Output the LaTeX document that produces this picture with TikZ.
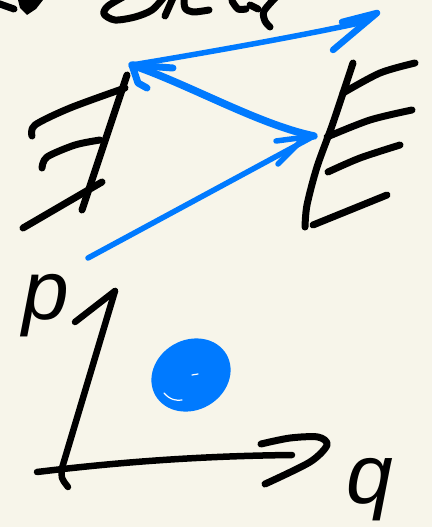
\documentclass[tikz,border=0pt]{standalone}
\usepackage{fontspec}
\usepackage{tikz}
\usetikzlibrary{calc}
\newfontfamily\handfont{Liberation Sans}
\definecolor{paper}{HTML}{F7F5EA}
\definecolor{tapblue}{HTML}{007AFF}

\begin{document}
\begin{tikzpicture}[
  x=1pt,y=-1pt,
  ink/.style={draw=black,line width=7pt,line cap=round,line join=round},
  axis/.style={ink,line width=6.5pt},
  blueink/.style={draw=tapblue,line width=5.5pt,line cap=round,line join=round},
  letter/.style={font=\handfont\itshape\fontsize{84}{84}\selectfont,
                 inner sep=0pt,text=black},
]
  \useasboundingbox (0,0) rectangle (432,527);
  \fill[paper] (0,0) rectangle (432,527);

  \coordinate (existsTip) at (132,65);
  \coordinate (epsTip) at (314,136);
  \coordinate (lowStart) at (88,258);
  \coordinate (topEnd) at (364,22);
  \coordinate (pTip) at (115,291);
  \coordinate (qTip) at (292,455);
  \coordinate (pFoot) at (62,468);
  \coordinate (qFoot) at (37,472);
  \coordinate (dot) at (191,375);

  \draw[ink] (-3,3) -- (14,9);
  \fill (18,0) -- (43,0) -- (36,9) -- (27,15) -- (20,8) -- cycle;
  \draw[ink] plot[smooth] coordinates {(125,-4) (108,6) (104,14) (115,20) (135,17) (152,10) (164,-3)};
  \draw[ink] (173,-2) -- (165,16);
  \draw[ink] plot[smooth] coordinates {(184,-3) (185,8) (193,12) (209,10)};
  \draw[ink] plot[smooth] coordinates {(232,1) (238,9) (246,9)};
  \draw[ink] (250,5) -- (258,9);
  \draw[ink] plot[smooth] coordinates {(277,-4) (264,11) (265,21) (270,27)};

  \draw[ink] (127,75) -- (82,210);
  \draw[ink] plot[smooth] coordinates {(32,136) (35,125) (70,108) (125,88)};
  \draw[ink] plot[smooth] coordinates {(42,168) (47,157) (75,145) (100,140)};
  \draw[ink] (23,228) -- (102,182);

  \draw[ink] plot[smooth] coordinates {(353,63) (333,123) (317,167) (307,205) (305,227)};
  \draw[ink] plot[smooth] coordinates {(343,93) (380,73) (415,63)};
  \draw[ink] plot[smooth] coordinates {(327,137) (370,120) (412,110)};
  \draw[ink] plot[smooth] coordinates {(328,172) (360,158) (400,145)};
  \draw[ink] (313,225) -- (387,195);

  \draw[blueink] (lowStart) -- (epsTip);
  \draw[blueink] (epsTip) ++(-38,5) -- (epsTip) -- ++(-13,5) -- ++(-23,23);
  \draw[blueink,line width=7.5pt] (epsTip) .. controls (260,125) and (190,85) .. (existsTip);
  \draw[blueink,line width=7pt] (existsTip) ++(41,3) -- (existsTip) -- ++(6,18) -- ++(9,5);
  \draw[blueink] (existsTip) .. controls (210,52) and (300,36) .. (topEnd);
  \draw[blueink,line width=6.5pt] (topEnd) ++(-22,0) -- ++(35,-9) -- ++(-44,37);

  \draw[axis] (pTip) -- (pFoot) .. controls (61,478) .. (68,487);
  \draw[axis] (pTip) -- ++(-40,31);
  \draw[axis] (qFoot) .. controls (120,462) and (200,456) .. (qTip);
  \draw[ink] plot[smooth] coordinates {(261,444) (290,438) (318,437) (327,445) (310,462) (265,484)};

  \fill[tapblue,rotate around={30:(dot)}] (dot) ellipse (41 and 35);
  \draw[white,line width=1.2pt,line cap=round] (164,393) .. controls (170,400) and (177,401) .. (182,400);
  \draw[white,line width=1.2pt,line cap=round] (192,375) -- (198,374);

  \node[letter] (plabel) at (46,306) {p};
  \node[letter] (qlabel) at (370,490) {q};
\end{tikzpicture}
\end{document}
